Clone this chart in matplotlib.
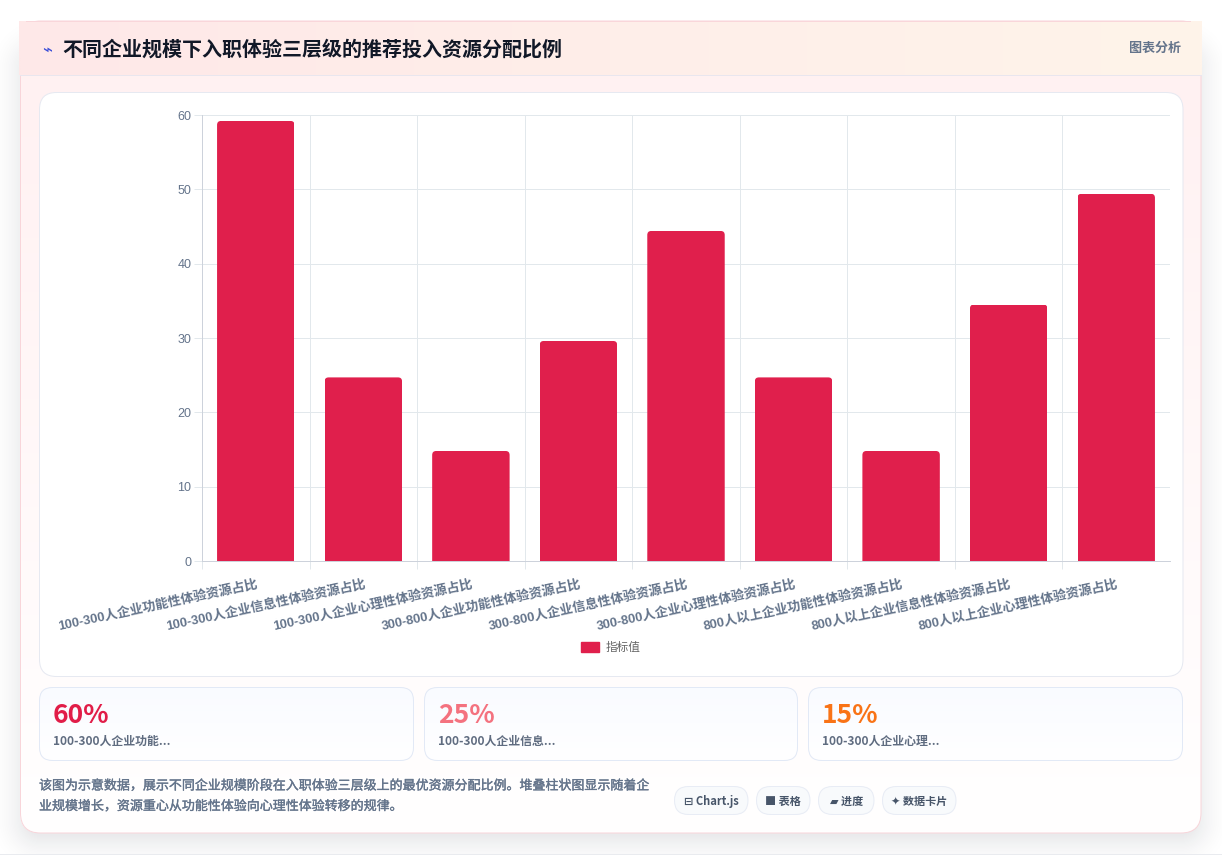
import numpy as np
import matplotlib
matplotlib.use("Agg")
import matplotlib.pyplot as plt
import matplotlib.patheffects as pe
from matplotlib.patches import FancyBboxPatch, Rectangle, Patch

# Chart data
categories = [
    "100-300人企业功能性体验资源占比", "100-300人企业信息性体验资源占比", "100-300人企业心理性体验资源占比",
    "300-800人企业功能性体验资源占比", "300-800人企业信息性体验资源占比", "300-800人企业心理性体验资源占比",
    "800人以上企业功能性体验资源占比", "800人以上企业信息性体验资源占比", "800人以上企业心理性体验资源占比",
]
values = [59.2, 24.7, 14.8, 29.6, 44.4, 24.7, 14.8, 34.5, 49.4]
series_name = "指标值"
y_ticks = [0, 10, 20, 30, 40, 50, 60]

# Summary cards, chips and captions
title = "不同企业规模下入职体验三层级的推荐投入资源分配比例"
subtitle = "图表分析"
kpi_values = ["60%", "25%", "15%"]
kpi_labels = ["100-300人企业功能...", "100-300人企业信息...", "100-300人企业心理..."]
kpi_colors = ["#e11d48", "#f4727f", "#f97316"]
note_lines = [
    "该图为示意数据，展示不同企业规模阶段在入职体验三层级上的最优资源分配比例。堆叠柱状图显示随着企",
    "业规模增长，资源重心从功能性体验向心理性体验转移的规律。",
]
chips = ["⊟ Chart.js", "■ 表格", "▰ 进度", "✦ 数据卡片"]

W, H = 1222, 855
PX = 0.72  # one pixel in points at 100 dpi
LATIN_CJK = ["Liberation Sans", "Noto Sans CJK SC", "DejaVu Sans"]
CJK_FIRST = ["Noto Sans CJK SC", "DejaVu Sans"]
plt.rcParams["font.family"] = LATIN_CJK

fig = plt.figure(figsize=(W / 100, H / 100), dpi=100, facecolor="white")

# Page layer, addressed in pixels with the origin at the top left
bg = fig.add_axes([0, 0, 1, 1], zorder=0)
bg.set_xlim(0, W)
bg.set_ylim(H, 0)
bg.axis("off")


def rounded(x0, y0, x1, y1, r, **kw):
    p = FancyBboxPatch((x0, y0), x1 - x0, y1 - y0, boxstyle=f"round,pad=0,rounding_size={r}", **kw)
    bg.add_patch(p)
    return p


def gradient(x0, y0, x1, y1, c0, c1, horizontal=False, clip=None, zorder=1):
    t = np.linspace(0, 1, 256)
    a = np.array(matplotlib.colors.to_rgb(c0))
    b = np.array(matplotlib.colors.to_rgb(c1))
    row = a[None, :] * (1 - t[:, None]) + b[None, :] * t[:, None]
    img = row[None, :, :] if horizontal else row[:, None, :]
    im = bg.imshow(img, extent=(x0, x1, y1, y0), aspect="auto", zorder=zorder, interpolation="bilinear")
    if clip is not None:
        im.set_clip_path(clip)
    return im


# Soft drop shadow under the main card
yy, xx = np.mgrid[0:H, 0:W] + 0.5
cx, cy, hw, hh, rad = 610.5, 445, 590, 396, 20
qx = np.abs(xx - cx) - (hw - rad)
qy = np.abs(yy - cy) - (hh - rad)
dist = np.hypot(np.maximum(qx, 0), np.maximum(qy, 0)) + np.minimum(np.maximum(qx, qy), 0) - rad
shadow = np.zeros((H, W, 4))
shadow[..., :3] = (0.06, 0.09, 0.16)
shadow[..., 3] = 0.09 * np.clip(1 - (dist + 6) / 42, 0, 1) ** 2
bg.imshow(shadow, extent=(0, W, H, 0), aspect="auto", zorder=0.5)

# Main card with its tinted body and header band
card_clip = rounded(20, 21, 1201, 833, 20, fc="none", ec="none", zorder=1)
gradient(20, 21, 1201, 833, "#fff0f1", "#ffffff", clip=card_clip, zorder=1)
rounded(20.5, 21, 1201, 833, 20, fc="none", ec="#f8d5da", lw=PX, zorder=1.1)
header = Rectangle((19, 21), 1183, 54, transform=bg.transData)
gradient(19, 21, 1202, 75, "#fee8e8", "#fff4ea", horizontal=True, clip=header, zorder=1.2)
bg.plot([20, 1201], [75.5, 75.5], color="#e9e6ee", lw=PX, zorder=1.3)
bg.plot([26, 1190], [21, 21], color="#f9d6da", lw=PX, zorder=1.3)

bg.text(47, 50, "⌁", color="#3b4fd8", fontsize=12, family=["DejaVu Sans"], ha="center", va="center", zorder=3)
bg.text(62, 49.5, title, color="#111827", fontsize=14.4, fontweight="bold", family=CJK_FIRST,
        va="center", ha="left", zorder=3)
bg.text(1181, 48, subtitle, color="#64748b", fontsize=9.4, fontweight="bold", family=CJK_FIRST,
        va="center", ha="right", zorder=3)

# Panel behind the bar chart
rounded(39.5, 92.5, 1183, 676.5, 17, fc="white", ec="#e6e9f1", lw=PX, zorder=2)

# Summary cards
card_spans = [(39.5, 413.5), (424.5, 797.5), (808.5, 1182.5)]
for (x0, x1), val, lab, col in zip(card_spans, kpi_values, kpi_labels, kpi_colors):
    clip = rounded(x0, 687.5, x1, 760.5, 13, fc="none", ec="none", zorder=2)
    gradient(x0, 687.5, x1, 760.5, "#f9fbff", "#ffffff", clip=clip, zorder=2)
    rounded(x0, 687.5, x1, 760.5, 13, fc="none", ec="#e2e9f6", lw=PX, zorder=2.2)
    bg.text(x0 + 13.5, 715.5, val, color=col, fontsize=19, fontweight="bold", family=CJK_FIRST,
            va="center", ha="left", zorder=3)
    bg.text(x0 + 13.5, 741.5, lab, color="#5f6c80", fontsize=8.6, fontweight="bold", family=CJK_FIRST,
            va="center", ha="left", zorder=3)

# Explanatory note, thickened a little with a hairline stroke
for y, line in zip((786, 806.5), note_lines):
    bg.text(39, y, line, color="#64748b", fontsize=9.35, family=CJK_FIRST, va="center", ha="left", zorder=3,
            path_effects=[pe.withStroke(linewidth=0.25, foreground="#64748b")])

# Feature chips
chip_spans = [(674.5, 748), (756.5, 810), (818.5, 874), (882.5, 956)]
for (x0, x1), text in zip(chip_spans, chips):
    rounded(x0, 786.5, x1, 814.5, 14, fc="#f8fafc", ec="#e8ecf5", lw=PX, zorder=2)
    bg.text((x0 + x1) / 2, 801, text, color="#475569", fontsize=8.0, fontweight="bold", family=CJK_FIRST,
            va="center", ha="center", zorder=3)

bg.plot([0, W], [853.5, 853.5], color="#e9ebef", lw=PX, zorder=0.6)
bg.set_xlim(0, W)
bg.set_ylim(H, 0)

# Bar chart
left, right, top, bottom = 202, 1170, 115, 561
ax = fig.add_axes([left / W, 1 - bottom / H, (right - left) / W, (bottom - top) / H], zorder=5)
ax.patch.set_alpha(0)
x = np.arange(len(categories))
bars = ax.bar(x, values, width=0.72, color="#e01f4c", zorder=3)
ax.set_xlim(-0.5, len(categories) - 0.5)
ax.set_ylim(0, 60)

# Round the top corners of every bar
unit_x = (right - left) / len(categories)
unit_y = (bottom - top) / 60
for b in bars:
    clip = FancyBboxPatch((b.get_x(), -2), b.get_width(), b.get_height() + 2,
                          boxstyle=f"round,pad=0,rounding_size={4 / unit_x}",
                          mutation_aspect=unit_x / unit_y, transform=ax.transData)
    b.set_clip_path(clip)

ax.set_yticks(y_ticks)
ax.tick_params(axis="y", length=8 * PX, width=PX, color="#e2e8ec", labelcolor="#64748b", labelsize=9, pad=2)

# Vertical grid lines fall on the left band edges; labels stay at the band centres
ax.set_xticks(x - 0.5)
ax.set_xticklabels([""] * len(categories))
ax.tick_params(axis="x", length=8 * PX, width=PX, color="#e2e8ec")
ax.grid(True, color="#e2e8ec", lw=PX, zorder=0)
ax.set_axisbelow(True)
for name, spine in ax.spines.items():
    spine.set_visible(name in ("left", "bottom"))
    spine.set_color("#cdd2db")
    spine.set_linewidth(PX)

for xi, cat in zip(x, categories):
    ax.annotate(cat, xy=(xi, 0), xycoords=("data", "axes fraction"), xytext=(0.5, -12),
                textcoords="offset points", rotation=12, rotation_mode="anchor",
                ha="right", va="top", color="#64748b", fontsize=9.4, fontweight="bold", family=LATIN_CJK)

ax.legend(handles=[Patch(color="#e01f4c", label=series_name)], loc="center",
          bbox_to_anchor=(611 / W, 1 - 647.5 / H), bbox_transform=fig.transFigure,
          frameon=False, handlelength=1.55, handleheight=1.05, handletextpad=0.6,
          labelcolor="#666666", prop={"family": CJK_FIRST, "size": 8.4})

fig.savefig("out.png", dpi=100)
